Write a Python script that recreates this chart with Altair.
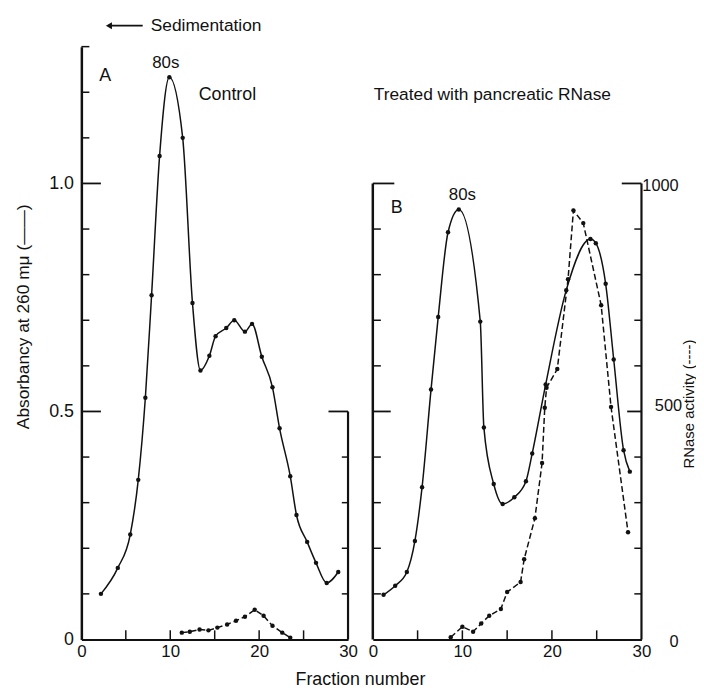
import altair as alt
import pandas as pd

FONT = "Liberation Sans, Arial, sans-serif"
INK = "#111111"

# ---------------- data ----------------
# Panel A (control): absorbancy at 260 mu (solid) and RNase activity (dashed)
a_abs_frac = [2.2, 4.1, 5.5, 6.4, 7.2, 7.9, 8.8, 9.9, 11.4, 12.5, 13.4, 14.4, 15.1,
              16.3, 17.2, 18.4, 19.2, 20.3, 21.5, 22.3, 23.5, 24.2, 25.4, 26.4, 27.6, 28.9]
a_abs = [0.10, 0.157, 0.23, 0.35, 0.53, 0.755, 1.06, 1.233, 1.10, 0.738, 0.59, 0.622, 0.665,
         0.683, 0.70, 0.675, 0.692, 0.62, 0.553, 0.463, 0.358, 0.273, 0.214, 0.168, 0.124, 0.148]
a_rn_frac = [11.3, 12.2, 13.3, 14.3, 15.3, 16.4, 17.4, 18.4, 19.5, 20.5, 21.5, 22.6, 23.5]
a_rn = [15, 17, 22, 20, 26, 33, 41, 50, 65, 52, 30, 15, 4]

# Panel B (treated with pancreatic RNase)
b_abs_frac = [1.2, 2.5, 3.8, 4.7, 5.5, 6.5, 7.3, 8.4, 9.6, 12.0, 12.4, 13.5, 14.5, 15.8,
              17.1, 17.8, 19.3, 21.6, 24.3, 24.9, 26.0, 26.9, 28.0, 28.7]
b_abs = [0.098, 0.118, 0.148, 0.216, 0.334, 0.548, 0.707, 0.893, 0.943, 0.697, 0.465, 0.341,
         0.297, 0.312, 0.347, 0.408, 0.559, 0.766, 0.878, 0.869, 0.78, 0.614, 0.415, 0.368]
b_rn_frac = [8.7, 10.0, 11.2, 12.1, 13.0, 14.3, 15.0, 16.5, 16.9, 18.1, 18.9, 19.2, 19.4,
             20.6, 21.8, 22.4, 23.5, 25.5, 26.6, 28.5]
b_rn = [5, 28, 17, 35, 52, 67, 104, 126, 176, 266, 387, 508, 552, 593, 790, 941, 913, 733, 510, 235]

x_tick_labels = [0, 10, 20, 30]
abs_tick_labels = [0, 0.5, 1.0]
rn_tick_labels = [0, 500, 1000]

# ---------------- scales / axes ----------------
XDOM = [0, 30]
YDOM = [0, 1.3]
RDOM = [0, 1300]
HEIGHT = 598

xscale = alt.Scale(domain=XDOM, nice=False, zero=False)
yscale = alt.Scale(domain=YDOM, nice=False, zero=False)
rscale = alt.Scale(domain=RDOM, nice=False, zero=False)


def x_axis(title):
    kw = dict(values=x_tick_labels, ticks=False, grid=False, domain=True,
              domainColor=INK, domainWidth=2, labelFont=FONT, labelFontSize=17,
              labelColor=INK, labelPadding=4, labelFlush=False, labelOverlap=False)
    if title:
        kw.update(title=title, titleFont=FONT, titleFontSize=18, titleFontWeight="normal",
                  titleColor=INK, titleX=281, titleY=31, titleAlign="center")
    else:
        kw.update(title=None)
    return alt.Axis(**kw)


xaxisA = x_axis("Fraction number")
xaxisB = x_axis(None)

yaxisA = alt.Axis(values=abs_tick_labels, ticks=False, grid=False, domain=True,
                  domainColor=INK, domainWidth=2.5, labelFont=FONT, labelFontSize=18,
                  labelColor=INK, labelPadding=8,
                  labelExpr="datum.value == 0 ? '0' : format(datum.value, '.1f')",
                  title="Absorbancy at 260 m\u03bc (\u2014\u2014)", titleFont=FONT,
                  titleFontSize=17.5, titleFontWeight="normal", titleColor=INK,
                  titleX=-58, titleY=272, titleBaseline="middle", titleAlign="center")

raxisB = alt.Axis(orient="right", values=rn_tick_labels, ticks=False, grid=False,
                  domain=False, labelFont=FONT, labelFontSize=16.5, labelColor=INK,
                  format="d",
                  labelAlign={"condition": {"test": "datum.value == 500", "value": "left"},
                              "value": "right"},
                  labelPadding={"condition": {"test": "datum.value == 500", "value": 13},
                                "value": 37},
                  labelOffset={"condition": {"test": "datum.value == 500", "value": -6},
                               "value": 2},
                  title="RNase activity (----)", titleFont=FONT, titleFontSize=15,
                  titleFontWeight="normal", titleColor=INK, titleAngle=270,
                  titleX=47, titleY=360, titleBaseline="middle", titleAlign="center")


def xenc(field, axis):
    return alt.X(field, type="quantitative", scale=xscale, axis=axis)


def curve(frac, vals, axis_x, yaxis, scale, dashed, interp):
    df = pd.DataFrame({"frac": frac, "v": vals})
    props = dict(color=INK, strokeWidth=1.5, interpolate=interp)
    if dashed:
        props["strokeDash"] = [6, 3]
    y = alt.Y("v", type="quantitative", scale=scale, axis=yaxis)
    line = alt.Chart(df).mark_line(**props).encode(x=xenc("frac", axis_x), y=y)
    pts = alt.Chart(df).mark_circle(size=20, color=INK, opacity=1).encode(
        x=xenc("frac", axis_x), y=alt.Y("v", type="quantitative", scale=scale, axis=None))
    return [line, pts]


def segs(rows, axis_x):
    df = pd.DataFrame(rows, columns=["x0", "x1", "y0", "y1", "w"])
    return alt.Chart(df).mark_rule(color=INK).encode(
        x=xenc("x0", axis_x), x2="x1",
        y=alt.Y("y0", type="quantitative", scale=yscale, axis=None), y2="y1",
        strokeWidth=alt.StrokeWidth("w", type="quantitative", scale=None))


def label(text, x, y, size, axis_x, align="left"):
    df = pd.DataFrame({"x": [x], "y": [y], "t": [text]})
    return alt.Chart(df).mark_text(font=FONT, fontSize=size, color=INK, align=align,
                                   baseline="middle").encode(
        x=xenc("x", axis_x),
        y=alt.Y("y", type="quantitative", scale=yscale, axis=None),
        text="t")


def arrow_head(x, y, axis_x):
    df = pd.DataFrame({"x": [x], "y": [y]})
    return alt.Chart(df).mark_point(shape="triangle-left", filled=True, size=50,
                                    color=INK, opacity=1).encode(
        x=xenc("x", axis_x),
        y=alt.Y("y", type="quantitative", scale=yscale, axis=None))


MINOR = 0.9
BOT = 0.02
bottom_ticks = [5, 10, 15, 20, 25]
ARROW_Y = 1.346

# ---- panel A frame ticks (and the sedimentation arrow shaft) ----
rowsA = [(3.0, 6.9, ARROW_Y, ARROW_Y, 1.6)]
for v in [0.1, 0.2, 0.3, 0.4, 0.6, 0.7, 0.8, 0.9, 1.1, 1.2, 1.3]:
    rowsA.append((0, MINOR, v, v, 1.5))
for v in [0.5, 1.0]:
    rowsA.append((0, 2.2, v, v, 1.8))
rowsA.append((30, 30, 0, 0.5, 2.2))
for v in [0.1, 0.2, 0.3, 0.4]:
    rowsA.append((30 - 0.7, 30, v, v, 1.5))
rowsA.append((27.8, 30, 0.5, 0.5, 1.8))
for t in bottom_ticks:
    rowsA.append((t, t, 0, BOT, 1.5))

# ---- panel B frame ticks ----
rowsB = [(0, 0, 0, 1.0, 2.5), (0, 2.4, 1.0, 1.0, 1.8), (30, 30, 0, 1.0, 2.2),
         (27.8, 30, 1.0, 1.0, 1.8), (0, 2.0, 0.5, 0.5, 1.8), (28.4, 30, 0.5, 0.5, 1.8)]
for v in [0.1, 0.2, 0.3, 0.4, 0.6, 0.7, 0.8, 0.9]:
    rowsB.append((0, MINOR, v, v, 1.5))
    rowsB.append((30 - 0.8, 30, v, v, 1.5))
for t in bottom_ticks:
    rowsB.append((t, t, 0, BOT, 1.5))

layersA = (curve(a_abs_frac, a_abs, xaxisA, yaxisA, yscale, False, "monotone")
           + curve(a_rn_frac, a_rn, xaxisA, None, rscale, True, "linear")
           + [segs(rowsA, xaxisA),
              arrow_head(3.1, ARROW_Y, xaxisA),
              label("Sedimentation", 7.8, ARROW_Y, 17.5, xaxisA),
              label("A", 2.0, 1.235, 18, xaxisA),
              label("80s", 9.5, 1.265, 17, xaxisA, "center"),
              label("Control", 13.2, 1.193, 18, xaxisA)])

layersB = (curve(b_abs_frac, b_abs, xaxisB, None, yscale, False, "monotone")
           + curve(b_rn_frac, b_rn, xaxisB, raxisB, rscale, True, "linear")
           + [segs(rowsB, xaxisB),
              label("Treated with pancreatic RNase", 0.1, 1.193, 17.5, xaxisB),
              label("B", 2.0, 0.946, 18, xaxisB),
              label("80s", 10.0, 0.974, 17, xaxisB, "center")])

panelA = alt.layer(*layersA).resolve_scale(y="independent").properties(width=269, height=HEIGHT)
panelB = alt.layer(*layersB).resolve_scale(y="independent").properties(width=271, height=HEIGHT)

chart = (alt.hconcat(panelA, panelB, spacing=25, bounds="flush")
         .properties(padding={"left": 7, "top": 5, "right": 0, "bottom": 0},
                     background="white")
         .configure_view(stroke=None))

chart.save("out.html", embed_options={"renderer": "svg", "actions": False})
